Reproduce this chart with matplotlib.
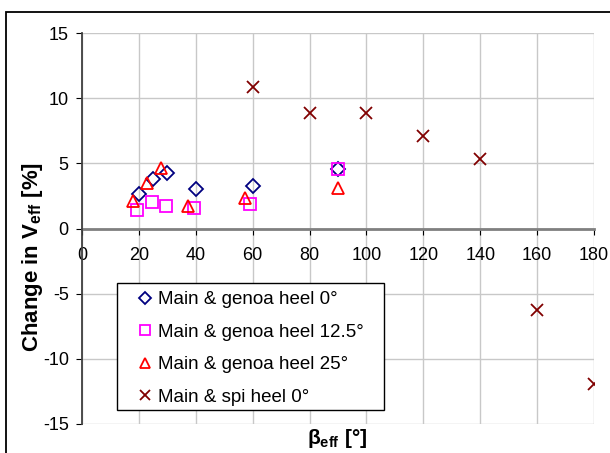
import numpy as np
import matplotlib
matplotlib.use('Agg')
import matplotlib.pyplot as plt
from matplotlib.patches import Rectangle

plt.rcParams['font.family'] = ['Liberation Sans', 'DejaVu Sans']
plt.rcParams['mathtext.fontset'] = 'custom'
plt.rcParams['mathtext.rm'] = 'Liberation Sans'
plt.rcParams['mathtext.bf'] = 'Liberation Sans:bold'
plt.rcParams['axes.unicode_minus'] = False

# data
beta_g0 = [20, 25, 30, 40, 60, 90]
dv_g0 = [2.63, 3.78, 4.26, 3.04, 3.29, 4.54]

beta_g125 = [19.4, 24.6, 29.4, 39.2, 59.2, 90.1]
dv_g125 = [1.40, 2.07, 1.71, 1.56, 1.89, 4.57]

beta_g25 = [18.0, 23.0, 27.6, 37.3, 57.4, 90]
dv_g25 = [2.10, 3.47, 4.67, 1.73, 2.37, 3.09]

beta_spi = [60, 80, 100, 120, 140, 160, 180]
dv_spi = [10.87, 8.83, 8.83, 7.09, 5.36, -6.22, -11.96]

labels = ['Main & genoa heel 0°', 'Main & genoa heel 12.5°',
          'Main & genoa heel 25°', 'Main & spi heel 0°']

W, H = 610, 453
fig = plt.figure(figsize=(W/100, H/100), dpi=100)
ax = fig.add_axes([82/W, 1 - 424/H, (594-82)/W, (424-33)/H])

ax.plot(beta_g0, dv_g0, 'D', mfc='none', mec='#000080', mew=1.3, ms=7, label=labels[0], zorder=3)
ax.plot(beta_g125, dv_g125, 's', mfc='none', mec='#ff00ff', mew=1.3, ms=9, label=labels[1], zorder=3)
ax.plot(beta_g25, dv_g25, '^', mfc='none', mec='#ff0000', mew=1.3, ms=9, label=labels[2], zorder=3)
ax.plot(beta_spi, dv_spi, 'x', color='#800000', mew=1.3, ms=9, label=labels[3], zorder=3)

ax.set_xlim(0, 180)
ax.set_ylim(-15, 15)
ax.set_xticks(np.arange(0, 181, 20))
ax.set_yticks(np.arange(-15, 16, 5))
ax.grid(True, color='#c8c8c8', lw=1)
ax.set_axisbelow(True)

ax.spines['bottom'].set_position(('data', 0))
ax.spines['bottom'].set_color('#808080')
ax.spines['bottom'].set_linewidth(2)
ax.spines['bottom'].set_zorder(2)
ax.spines['top'].set_visible(False)
ax.spines['right'].set_visible(False)
ax.spines['left'].set_color('#404040')
ax.spines['left'].set_linewidth(1.3)
ax.tick_params(axis='x', direction='out', length=4.5, color='black', labelsize=13, pad=9)
ax.tick_params(axis='y', direction='out', length=4.5, color='black', labelsize=13, pad=5)

fig.text(33/W, 1 - 257/H, r'Change in V$_{\mathbf{eff}}$ [%]', fontsize=16, fontweight='bold',
         rotation=90, ha='center', va='center')
fig.text(337/W, 1 - 438/H, r'β$_{\mathbf{eff}}$ [°]', fontsize=15, fontweight='bold',
         ha='center', va='center')

# legend frame drawn separately so padding matches the reference
ax.add_patch(Rectangle(((117-82)/512, (424-410)/391), (384-117)/512, (410-283)/391,
                       transform=ax.transAxes, facecolor='white', edgecolor='black',
                       lw=1, zorder=4))
leg = ax.legend(loc='upper left', bbox_to_anchor=((138-82)/512, (424-291)/391),
                fontsize=13.5, frameon=False, labelspacing=0.82, handlelength=0.7,
                handletextpad=0.35, borderpad=0, borderaxespad=0, markerscale=0.85)
leg.set_zorder(5)

fig.patches.append(Rectangle((6/W, -0.2), 1.2, 1.2 - 12/H, transform=fig.transFigure,
                             fill=False, edgecolor='black', lw=1.3))

fig.savefig('out.png', dpi=100)
